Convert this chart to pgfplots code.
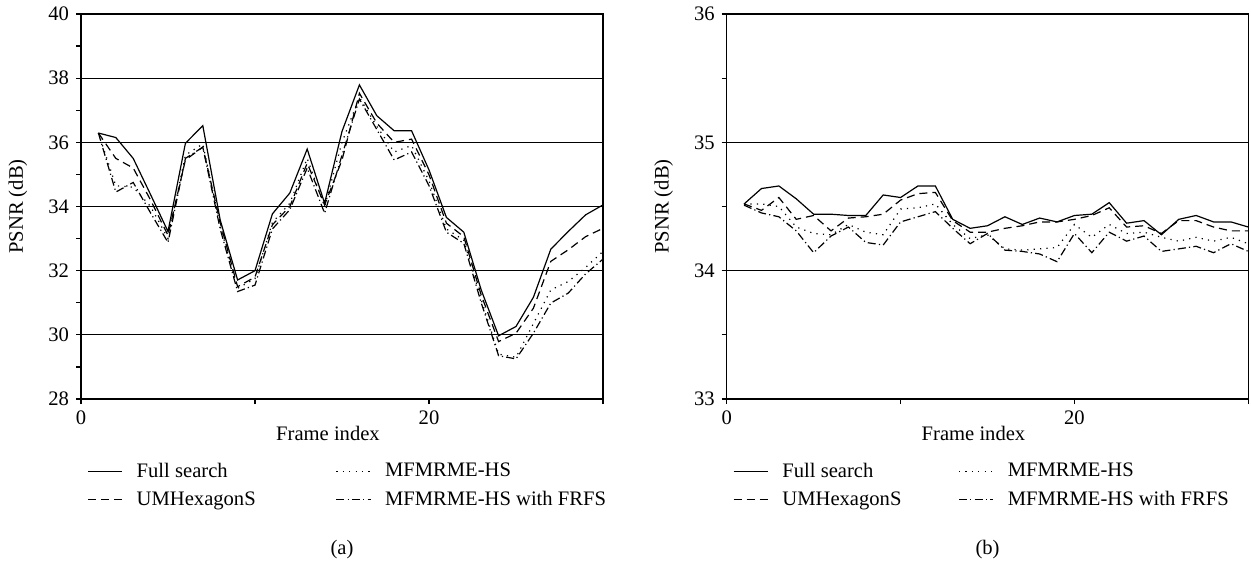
\documentclass[border=0pt]{standalone}
\usepackage{fontspec}
\setmainfont{Liberation Serif}
\usepackage{pgfplots}
\usepackage{pgfplotstable}
\pgfplotsset{compat=1.18}

\pgfplotstableread{
k FS UMH MF MFF
1 36.29 36.29 36.29 36.29
2 36.15 35.50 34.65 34.45
3 35.50 35.20 34.60 34.75
4 34.37 34.20 34.00 33.80
5 33.22 33.10 33.00 32.88
6 35.97 35.45 35.60 35.50
7 36.52 35.85 35.95 35.85
8 33.58 33.50 33.40 33.30
9 31.71 31.50 31.45 31.35
10 32.00 31.80 31.75 31.55
11 33.77 33.43 33.50 33.30
12 34.42 34.00 34.10 33.90
13 35.79 35.35 35.50 35.20
14 34.10 34.05 34.00 33.79
15 36.34 35.45 36.00 35.60
16 37.79 37.53 37.40 37.35
17 36.83 36.60 36.50 36.40
18 36.36 36.00 35.70 35.45
19 36.36 36.10 35.90 35.70
20 35.14 34.99 34.80 34.65
21 33.66 33.48 33.30 33.20
22 33.20 33.06 32.95 32.85
23 31.40 31.24 31.10 31.00
24 29.97 29.79 29.40 29.35
25 30.26 30.05 29.30 29.25
26 31.17 30.83 30.35 30.05
27 32.67 32.29 31.40 30.99
28 33.22 32.65 31.66 31.30
29 33.74 33.06 32.10 31.90
30 34.05 33.32 32.60 32.36
}\tableA

\pgfplotstableread{
k FS UMH MF MFF
1 34.52 34.52 34.52 34.51
2 34.64 34.47 34.52 34.45
3 34.66 34.57 34.50 34.42
4 34.56 34.40 34.34 34.31
5 34.44 34.43 34.29 34.14
6 34.44 34.31 34.28 34.27
7 34.43 34.41 34.36 34.34
8 34.43 34.42 34.30 34.22
9 34.59 34.44 34.28 34.20
10 34.57 34.55 34.48 34.38
11 34.66 34.60 34.49 34.42
12 34.66 34.61 34.52 34.46
13 34.40 34.39 34.36 34.33
14 34.33 34.30 34.25 34.21
15 34.35 34.30 34.28 34.29
16 34.42 34.33 34.17 34.16
17 34.36 34.35 34.16 34.15
18 34.41 34.38 34.17 34.13
19 34.38 34.38 34.18 34.07
20 34.43 34.40 34.36 34.29
21 34.44 34.43 34.26 34.14
22 34.53 34.49 34.36 34.30
23 34.37 34.34 34.29 34.23
24 34.39 34.35 34.30 34.27
25 34.28 34.29 34.26 34.15
26 34.40 34.39 34.23 34.17
27 34.43 34.39 34.26 34.19
28 34.38 34.34 34.23 34.14
29 34.38 34.31 34.26 34.21
30 34.34 34.31 34.21 34.15
}\tableB

\newcommand{\fnt}{\fontsize{10.3}{12}\selectfont}

\pgfplotsset{
  panel/.style={
    scale only axis,
    width=261pt, height=192.5pt,
    xmin=0, xmax=30,
    xtick={0,20}, minor xtick={10,30},
    tick align=outside, tick pos=left,
    major tick length=2.5pt, minor tick length=2.5pt,
    every tick/.style={black, line width=0.6pt},
    ymajorgrids,
    grid style={black, line width=0.5pt},
    axis line style={black, line width=0.7pt},
    clip mode=individual,
    /pgf/number format/assume math mode=true,
    tick label style={font=\fnt},
    label style={font=\fnt},
    xlabel={Frame index},
    ylabel={PSNR (dB)},
    xlabel style={at={(axis description cs:0.5,-0.090)}, anchor=center, xshift=-7pt},
    ylabel style={at={(axis description cs:-0.121,0.5)}, anchor=center},
    legend columns=2,
    legend cell align=left,
    every axis plot/.append style={black, line width=0.6pt},
  },
  s1/.style={solid},
  s2/.style={dash pattern=on 0.6pt off 2.6pt},
  s3/.style={dash pattern=on 4pt off 2.5pt},
  s4/.style={dash pattern=on 4pt off 1.6pt on 0.6pt off 1.6pt},
}

\begin{document}
\begin{tikzpicture}
\useasboundingbox (0,0) rectangle (625.5pt,287.5pt);

\begin{axis}[panel,
  at={(40.5pt,88pt)}, anchor=south west,
  ymin=28, ymax=40,
  ytick={28,30,...,40}, minor ytick={29,31,...,39},
  legend style={draw=none, fill=none, font=\fnt,
    at={(axis description cs:0.0,-0.144)}, anchor=north west,
    row sep=1.5pt,
    /tikz/every odd column/.append style={column sep=5pt},
    /tikz/every even column/.append style={column sep=38pt}},
]
\addplot[s1] table[x=k,y=FS]{\tableA};
\addlegendentry{Full search}
\addplot[s2] table[x=k,y=MF]{\tableA};
\addlegendentry{MFMRME-HS}
\addplot[s3] table[x=k,y=UMH]{\tableA};
\addlegendentry{UMHexagonS}
\addplot[s4] table[x=k,y=MFF]{\tableA};
\addlegendentry{MFMRME-HS with FRFS}
\node[font=\fnt] at (axis description cs:0.5,-0.39) {(a)};
\end{axis}

\begin{axis}[panel,
  at={(363.35pt,88pt)}, anchor=south west,
  width=260.8pt,
  ymin=33, ymax=36,
  ytick={33,34,35,36}, minor ytick={33.5,34.5,35.5},
  legend style={draw=none, fill=none, font=\fnt,
    at={(axis description cs:0.0,-0.144)}, anchor=north west,
    row sep=1.5pt,
    /tikz/every odd column/.append style={column sep=5pt},
    /tikz/every even column/.append style={column sep=26.5pt}},
]
\addplot[s1] table[x=k,y=FS]{\tableB};
\addlegendentry{Full search}
\addplot[s2] table[x=k,y=MF]{\tableB};
\addlegendentry{MFMRME-HS}
\addplot[s3] table[x=k,y=UMH]{\tableB};
\addlegendentry{UMHexagonS}
\addplot[s4] table[x=k,y=MFF]{\tableB};
\addlegendentry{MFMRME-HS with FRFS}
\node[font=\fnt] at (axis description cs:0.5,-0.39) {(b)};
\end{axis}
\end{tikzpicture}
\end{document}
